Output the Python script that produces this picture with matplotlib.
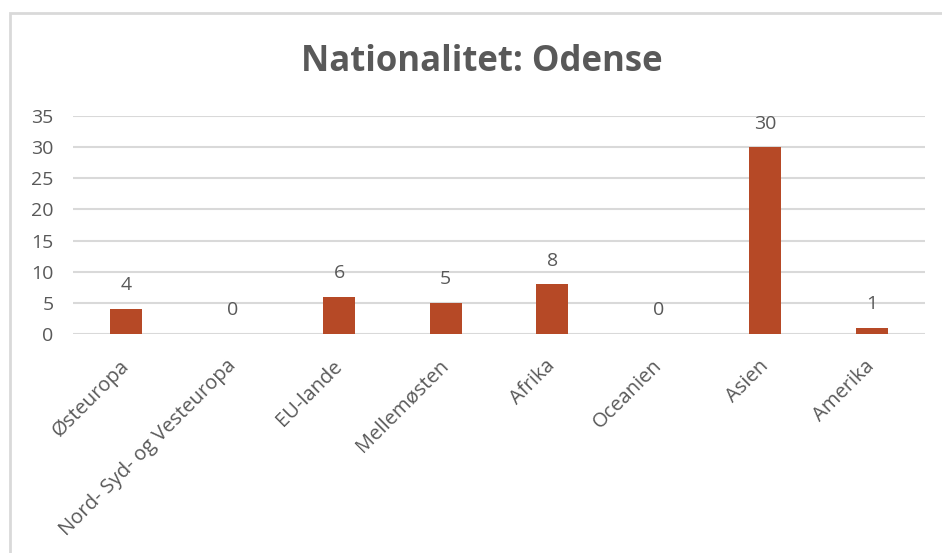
import matplotlib
matplotlib.use('Agg')
import matplotlib.pyplot as plt
from matplotlib.patches import Rectangle

# --- data ---
categories = ['Østeuropa', 'Nord- Syd- og Vesteuropa', 'EU-lande', 'Mellemøsten',
              'Afrika', 'Oceanien', 'Asien', 'Amerika']
counts = [4, 0, 6, 5, 8, 0, 30, 1]
y_ticks = [0, 5, 10, 15, 20, 25, 30, 35]

TEXT = '#595959'
GRID = '#d9d9d9'
BAR = '#b64926'

plt.rcParams['font.family'] = ['Open Sans', 'DejaVu Sans']

fig = plt.figure(figsize=(9.42, 5.53), dpi=100)
ax = fig.add_axes([73 / 942, 1 - 334 / 553, (925 - 73) / 942, (334 - 116) / 553])

x = range(len(categories))
bars = ax.bar(x, counts, width=0.3, color=BAR, zorder=3)

for xi, v in zip(x, counts):
    ax.annotate(str(v), (xi, v), xytext=(0, 17), textcoords='offset points',
                ha='center', va='center', fontsize=14, color=TEXT)

ax.set_xlim(-0.5, len(categories) - 0.5)
ax.set_ylim(0, 35)
ax.set_yticks(y_ticks)
ax.yaxis.grid(True, color=GRID, linewidth=1.5, zorder=0)
ax.set_axisbelow(True)
for s in ax.spines.values():
    s.set_visible(False)
ax.tick_params(axis='y', length=0, colors=TEXT, labelsize=14, pad=14)
ax.set_xticks(list(x))
ax.set_xticklabels(categories, rotation=45, ha='right', va='center', rotation_mode='anchor')
ax.tick_params(axis='x', length=0, colors=TEXT, labelsize=14.5, pad=21)

fig.text(482 / 942, 1 - 62 / 553, 'Nationalitet: Odense', ha='center', va='center',
         fontsize=25, fontweight='bold', color=TEXT)

# chart frame
fig.patches.append(Rectangle((10 / 942, -0.1), 1.2, 1.1 - 13 / 553, transform=fig.transFigure,
                             fill=False, edgecolor=GRID, linewidth=2))

fig.savefig('out.png', dpi=100)
